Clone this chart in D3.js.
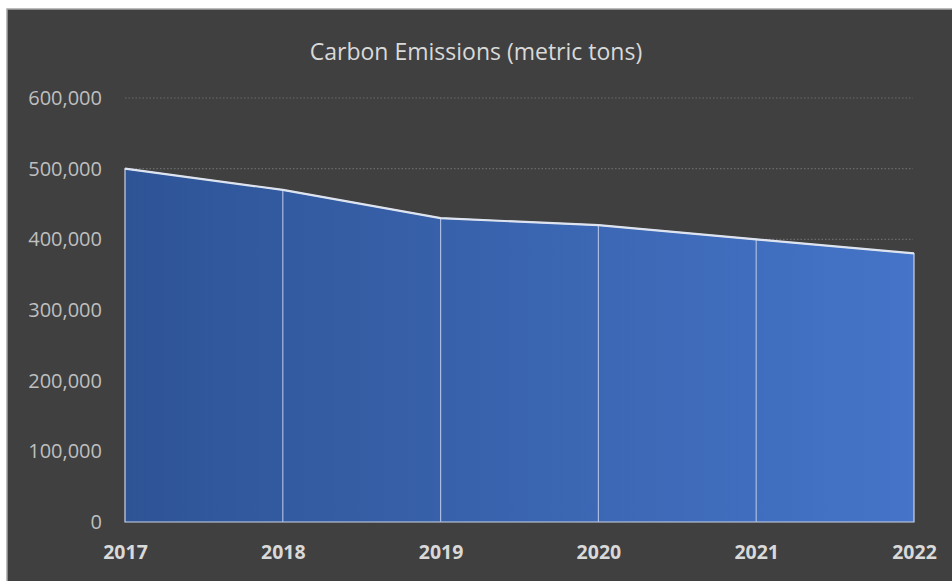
<!DOCTYPE html>
<html><head><meta charset="utf-8">
<script src="https://cdn.jsdelivr.net/npm/d3@7"></script>
<style>html,body{margin:0;padding:0;background:#fff;}svg{display:block;}</style>
</head><body>
<svg id="chart" width="952" height="581"></svg>
<script>
const years = ["2017","2018","2019","2020","2021","2022"];
const emissions = [500000, 470000, 430000, 420000, 400000, 380000];
const yTicks = [0, 100000, 200000, 300000, 400000, 500000, 600000];
const title = "Carbon Emissions (metric tons)";

const svg = d3.select("#chart");
const W = 952, H = 581;
svg.append("rect").attr("x", 7).attr("y", 9).attr("width", W).attr("height", H)
  .attr("fill", "#404040").attr("stroke", "#a6a6a6").attr("stroke-width", 1.5);

const x = d3.scalePoint().domain(years).range([125, 914]);
const y = d3.scaleLinear().domain([0, 600000]).range([522, 98]);
const font = "'Open Sans', 'Noto Sans', sans-serif";

svg.append("text").attr("x", 476).attr("y", 60).attr("text-anchor", "middle")
  .attr("font-family", font).attr("font-size", 23).attr("fill", "#d9d9d9").text(title);

// gridlines
svg.append("g").selectAll("line").data(yTicks.filter(d => d > 0)).join("line")
  .attr("x1", 125).attr("x2", 913).attr("y1", d => y(d)).attr("y2", d => y(d))
  .attr("stroke", "#6a6a6a").attr("stroke-width", 1.2).attr("stroke-dasharray", "1.5,2");

const defs = svg.append("defs");
const grad = defs.append("linearGradient").attr("id", "g").attr("x1", "0").attr("x2", "1").attr("y1", "0").attr("y2", "0");
grad.append("stop").attr("offset", "0%").attr("stop-color", "#2e5496");
grad.append("stop").attr("offset", "100%").attr("stop-color", "#4574c8");

const data = years.map((yr, i) => ({yr, v: emissions[i]}));
const area = d3.area().x(d => x(d.yr)).y0(y(0)).y1(d => y(d.v));
svg.append("path").datum(data).attr("d", area).attr("fill", "url(#g)")
  .attr("stroke", "#c9d3e8").attr("stroke-width", 1.2);

// drop lines
svg.append("g").selectAll("line").data(data.slice(1, -1)).join("line")
  .attr("x1", d => x(d.yr)).attr("x2", d => x(d.yr)).attr("y1", d => y(d.v)).attr("y2", y(0))
  .attr("stroke", "#a9bbe0").attr("stroke-width", 1.2);

// top line
const line = d3.line().x(d => x(d.yr)).y(d => y(d.v));
svg.append("path").datum(data).attr("d", line).attr("fill", "none")
  .attr("stroke", "#dde3ef").attr("stroke-width", 2.2);

// y axis
const yAxis = d3.axisLeft(y).tickValues(yTicks).tickFormat(d3.format(",")).tickSize(0).tickPadding(0);
const ga = svg.append("g").attr("transform", "translate(102,0)").call(yAxis);
ga.select(".domain").remove();
ga.selectAll("text").attr("font-family", font).attr("font-size", 20).attr("fill", "#bfbfbf");

// x axis
const xAxis = d3.axisBottom(x).tickSize(0).tickPadding(0);
const gx = svg.append("g").attr("transform", "translate(0,545)").call(xAxis);
gx.select(".domain").remove();
gx.selectAll("text").attr("font-family", font).attr("font-size", 19.5).attr("font-weight", "bold").attr("fill", "#d9d9d9");
</script>
</body></html>
